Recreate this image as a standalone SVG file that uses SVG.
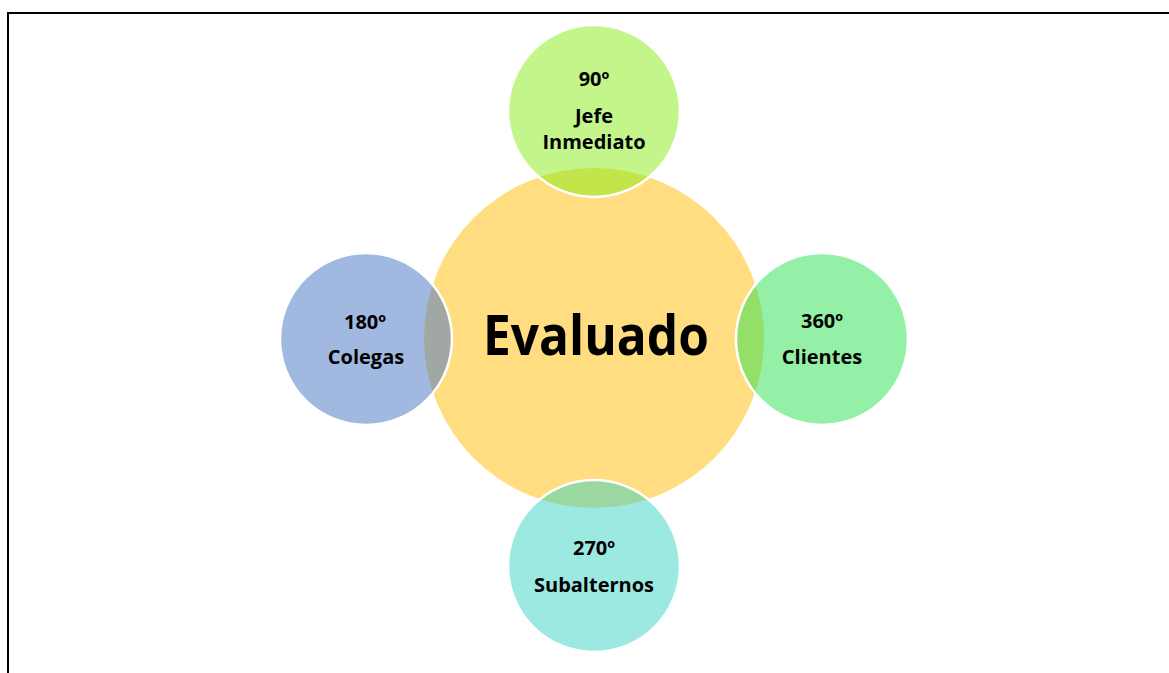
<svg xmlns="http://www.w3.org/2000/svg" width="1169" height="673" viewBox="0 0 1169 673">
<style>
.frame{stroke:#000;stroke-width:2;fill:none}
.sat{fill-opacity:0.5;stroke:#fff;stroke-width:2.5}
.lbl{font-family:"Open Sans","Noto Sans",sans-serif;font-weight:bold;font-size:20px;fill:#000;text-anchor:middle}
.main{font-family:"Open Sans","Noto Sans",sans-serif;font-weight:bold;font-size:55px;fill:#000;text-anchor:middle}
</style>
<rect width="1169" height="673" fill="#fff"/>
<path class="frame" d="M8,673 V13 H1169"/>
<g id="evaluado">
<circle cx="594" cy="338" r="170" fill="#FFDD80"/>
<text class="main" x="596" y="355" textLength="226" lengthAdjust="spacingAndGlyphs">Evaluado</text>
</g>
<g id="jefe">
<circle class="sat" cx="594" cy="111" r="86" fill="#8AEB17"/>
<text class="lbl" x="594" y="86">90º</text>
<text class="lbl" x="594" y="123">Jefe</text>
<text class="lbl" x="594" y="149">Inmediato</text>
</g>
<g id="colegas">
<circle class="sat" cx="366" cy="339" r="86" fill="#4472C4"/>
<text class="lbl" x="365" y="329">180º</text>
<text class="lbl" x="366" y="364">Colegas</text>
</g>
<g id="clientes">
<circle class="sat" cx="822" cy="339" r="86" fill="#27E14D"/>
<text class="lbl" x="822" y="328">360º</text>
<text class="lbl" x="822" y="364">Clientes</text>
</g>
<g id="subalternos">
<circle class="sat" cx="594" cy="566" r="86" fill="#37D3C1"/>
<text class="lbl" x="594" y="555">270º</text>
<text class="lbl" x="594" y="592">Subalternos</text>
</g>
<g id="connectors"></g>
</svg>
